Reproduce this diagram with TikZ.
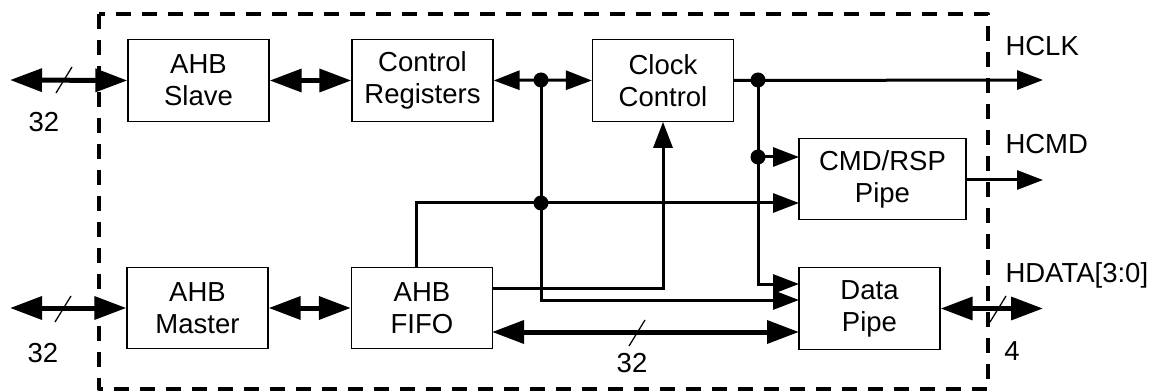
\documentclass[tikz,border=0pt]{standalone}
\usepackage{fontspec}
\setmainfont{Liberation Sans}
\usetikzlibrary{arrows.meta}

\newcommand{\busslash}[1]{\draw[line width=0.5pt] (#1) ++(-8,13) -- ++(16,-26);}

\begin{document}
\begin{tikzpicture}[x=0.4pt, y=-0.4pt, font=\fontsize{11}{12.8}\selectfont,
  blk/.style={draw, line width=0.5pt, minimum width=56.4pt, minimum height=32.6pt,
    align=center, inner sep=0pt},
  sig/.style={line width=1.2pt, -{Triangle[length=10.4pt,width=7.6pt]}},
  bus/.style={line width=2pt,
    {Triangle[length=12.8pt,width=9pt]}-{Triangle[length=12.8pt,width=9pt]}},
  jdot/.style={circle, fill, inner sep=0pt, minimum size=6pt},
  ipframe/.style={line width=1.6pt, dash pattern=on 6pt off 4.4pt, line join=round}]
  \useasboundingbox (0,0) rectangle (1158,392);

  % blocks
  \node[blk] (slave)  at (198.5,80.5) {AHB\\Slave};
  \node[blk] (regs)   at (422.5,80.5) {Control\\Registers};
  \node[blk] (clk)    at (663,80.5)   {Clock\\Control};
  \node[blk, minimum width=66.8pt] (cmd) at (882.5,179) {CMD/RSP\\Pipe};
  \node[blk] (master) at (197.5,308)  {AHB\\Master};
  \node[blk] (fifo)   at (422,308)    {AHB\\FIFO};
  \node[blk] (data)   at (869.5,308.5) {Data\\Pipe};

  % ports and junctions
  \coordinate (ahbs) at (10,80);
  \coordinate (ahbm) at (10,308);
  \coordinate (hclk) at (1043,80);
  \coordinate (hcmd) at (1043,180);
  \coordinate (hdat) at (1043,308.5);
  \coordinate (j1) at (541,80);
  \coordinate (j2) at (541,203);
  \coordinate (j3) at (758,80);
  \coordinate (j4) at (758,157);
  \coordinate (ff) at (416,267);
  \coordinate (fo) at (492,288);
  \coordinate (fb) at (492,332);
  \coordinate (cp1) at (799,157);
  \coordinate (cp2) at (799,203);
  \coordinate (dp1) at (799,284);
  \coordinate (dp2) at (799,300);
  \coordinate (db) at (799,332);

  % buses
  \draw[bus] (ahbs) -- (slave.west);
  \draw[bus] (slave.east) -- (regs.west);
  \draw[bus] (ahbm) -- (master.west);
  \draw[bus] (master.east) -- (fifo.west);
  \draw[bus] (fb) -- (db);
  \draw[bus] (data.east) -- (hdat);
  \busslash{64,80}
  \busslash{63,309}
  \busslash{637,333}
  \busslash{998,309}

  % control signals
  \draw[sig] (j1) -- (regs.east);
  \draw[sig] (j1) -- (clk.west);
  \draw[sig] (j1) |- (dp2);
  \draw[sig] (ff) |- (cp2);
  \draw[sig] (fo) -| (clk.south);
  \draw[sig] (clk.east) -- (hclk);
  \draw[sig] (j3) |- (dp1);
  \draw[sig] (j4) -- (cp1);
  \draw[sig] (cmd.east |- hcmd) -- (hcmd);
  \foreach \j in {j1,j2,j3,j4} \node[jdot] at (\j) {};

  % labels
  \node at (44,122) {32};
  \node at (43,353) {32};
  \node at (632,363) {32};
  \node at (1012,351) {4};
  \node[anchor=west, inner sep=0pt] at (1005,46) {HCLK};
  \node[anchor=west, inner sep=0pt] at (1005,144) {HCMD};
  \node[anchor=west, inner sep=0pt] at (1005,275) {HDATA[3:0]};

  \draw[ipframe] (99,14) rectangle (988,389);
\end{tikzpicture}
\end{document}
